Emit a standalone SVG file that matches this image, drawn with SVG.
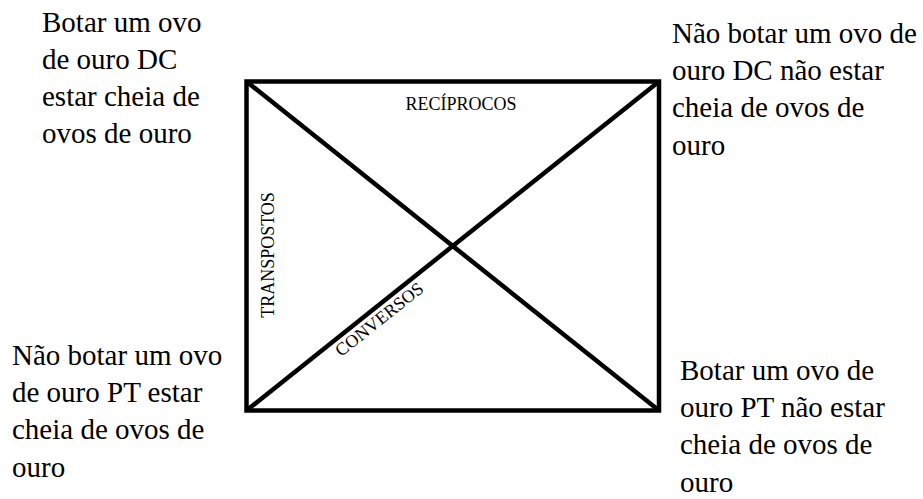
<svg xmlns="http://www.w3.org/2000/svg" width="923" height="499" viewBox="0 0 923 499">
<style>
.s{font-family:"Liberation Serif","Times New Roman",serif;font-size:18px;fill:#000}
.big{font-family:"Liberation Serif","Times New Roman",serif;font-size:29px;fill:#000}
.ln{stroke:#000;stroke-width:4.5;fill:none}
</style>
<rect width="923" height="499" fill="#fff"/>
<g id="connectors">
<rect class="ln" x="246.5" y="81.5" width="412.5" height="329"/>
<line class="ln" x1="246.5" y1="81.5" x2="659" y2="410.5"/>
<line class="ln" x1="246.5" y1="410.5" x2="659" y2="81.5"/>
</g>
<g id="label-reciprocos"><text class="s" x="461" y="110" text-anchor="middle">RECÍPROCOS</text></g>
<g id="label-transpostos"><text class="s" transform="translate(274,255) rotate(-90)" text-anchor="middle">TRANSPOSTOS</text></g>
<g id="label-conversos"><text class="s" transform="translate(383,324) rotate(-38.5)" text-anchor="middle">CONVERSOS</text></g>
<g id="node-tl" class="big"><text x="42" y="31.5">Botar um ovo</text><text x="42" y="68.7">de ouro DC</text><text x="42" y="105.9">estar cheia de</text><text x="42" y="143.1">ovos de ouro</text></g>
<g id="node-tr" class="big"><text x="672" y="43">Não botar um ovo de</text><text x="672" y="80.2">ouro DC não estar</text><text x="672" y="117.4">cheia de ovos de</text><text x="672" y="154.6">ouro</text></g>
<g id="node-bl" class="big"><text x="12" y="365">Não botar um ovo</text><text x="12" y="402.2">de ouro PT estar</text><text x="12" y="439.4">cheia de ovos de</text><text x="12" y="476.6">ouro</text></g>
<g id="node-br" class="big"><text x="680" y="380">Botar um ovo de</text><text x="680" y="417.2">ouro PT não estar</text><text x="680" y="454.4">cheia de ovos de</text><text x="680" y="491.6">ouro</text></g>
</svg>
